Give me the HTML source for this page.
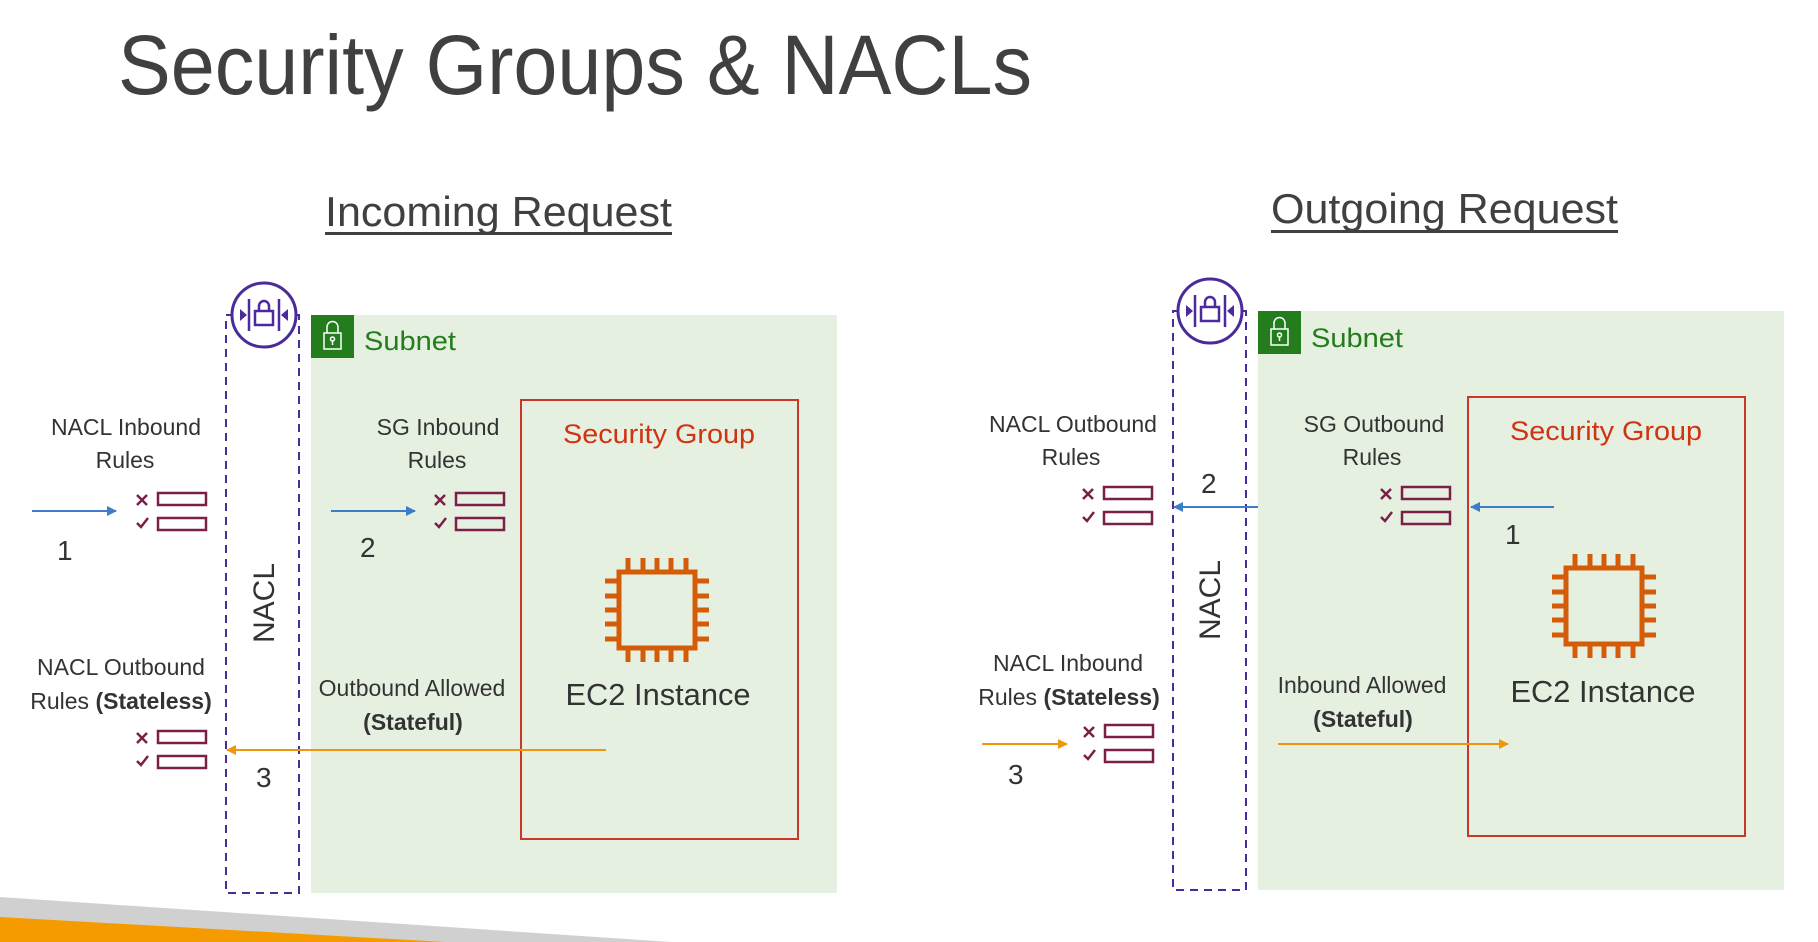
<!DOCTYPE html>
<html><head><meta charset="utf-8"><style>
html,body{margin:0;padding:0;background:#fff;}
svg{display:block;}
text{font-family:"Liberation Sans",sans-serif;}
</style></head><body>
<svg width="1818" height="942" viewBox="0 0 1818 942" xmlns="http://www.w3.org/2000/svg">
<defs>
<marker id="ab" markerWidth="10" markerHeight="10" refX="9" refY="5" orient="auto" markerUnits="userSpaceOnUse"><path d="M0,0 L10,5 L0,10 z" fill="#3d7cc9"/></marker>
<marker id="ao" markerWidth="10" markerHeight="10" refX="9" refY="5" orient="auto" markerUnits="userSpaceOnUse"><path d="M0,0 L10,5 L0,10 z" fill="#f0960e"/></marker>
<g id="rules" fill="none" stroke="#7a2048" stroke-width="2.5">
<path d="M0,2 L10,12 M10,2 L0,12"/>
<rect x="21" y="0" width="48" height="12"/>
<path d="M0,30 L4,34 L11,25"/>
<rect x="21" y="25" width="48" height="12"/>
</g>
<g id="chip" fill="none" stroke="#d45b07" stroke-width="5">
<rect x="-38" y="-38" width="76" height="76"/>
<path d="M-29,-38 V-52 M-14,-38 V-52 M0,-38 V-52 M14,-38 V-52 M29,-38 V-52
M-29,38 V52 M-14,38 V52 M0,38 V52 M14,38 V52 M29,38 V52
M-38,-29 H-52 M-38,-14 H-52 M-38,0 H-52 M-38,14 H-52 M-38,29 H-52
M38,-29 H52 M38,-14 H52 M38,0 H52 M38,14 H52 M38,29 H52"/>
</g>
<g id="naclicon">
<circle cx="0" cy="0" r="32" fill="#fff" stroke="#4b2a9a" stroke-width="3"/>
<g stroke="#4b2a9a" stroke-width="2.5" fill="none">
<path d="M-15,-16 V16 M15,-16 V16"/>
<rect x="-9" y="-4" width="18" height="14"/>
<path d="M-5,-4 V-9 A5,5 0 0 1 5,-9 V-4"/>
</g>
<path d="M-24,-6 L-17,0 L-24,6 z M24,-6 L17,0 L24,6 z" fill="#4b2a9a"/>
</g>
<g id="lock">
<rect x="0" y="0" width="43" height="43" fill="#237d1c"/>
<g stroke="#fff" stroke-width="1.5" fill="none">
<rect x="13" y="18" width="17" height="16"/>
<path d="M16,18 V12 A5.5,5.5 0 0 1 27,12 V18"/>
<circle cx="21.5" cy="24" r="2"/><path d="M21.5,26 V30"/>
</g>
</g>
</defs>

<!-- bottom swoosh -->
<polygon points="0,897 0,942 671,942" fill="#d0d0d0"/>
<polygon points="0,917 0,942 445,942" fill="#f59b00"/>

<!-- title -->
<text x="118" y="94" font-size="84" fill="#404040" textLength="914" lengthAdjust="spacingAndGlyphs">Security Groups &amp; NACLs</text>
<text x="325" y="226" font-size="42" fill="#404040" textLength="347" lengthAdjust="spacingAndGlyphs">Incoming Request</text>
<rect x="325" y="232" width="347" height="3" fill="#404040"/>
<text x="1271" y="223" font-size="42" fill="#404040" textLength="347" lengthAdjust="spacingAndGlyphs">Outgoing Request</text>
<rect x="1271" y="230" width="347" height="3" fill="#404040"/>

<!-- LEFT PANEL -->
<rect x="311" y="315" width="526" height="578" fill="#e6f0e0"/>
<use href="#lock" x="311" y="315"/>
<text x="364" y="350" font-size="27" fill="#237d1c" textLength="92" lengthAdjust="spacingAndGlyphs">Subnet</text>
<rect x="226" y="315" width="73" height="578" fill="none" stroke="#4b2a9a" stroke-width="2" stroke-dasharray="8,6"/>
<use href="#naclicon" x="264" y="315"/>
<text transform="translate(274,603) rotate(-90)" text-anchor="middle" font-size="30" fill="#333">NACL</text>
<rect x="521" y="400" width="277" height="439" fill="none" stroke="#c7372a" stroke-width="2"/>
<text x="659" y="443" text-anchor="middle" font-size="27" fill="#d13212" textLength="192" lengthAdjust="spacingAndGlyphs">Security Group</text>
<use href="#chip" x="657" y="610"/>
<text x="658" y="705" text-anchor="middle" font-size="31" fill="#333" textLength="185" lengthAdjust="spacingAndGlyphs">EC2 Instance</text>

<g font-size="23" fill="#333" text-anchor="middle">
<text x="126" y="435">NACL Inbound</text>
<text x="125" y="468">Rules</text>
<text x="438" y="435">SG Inbound</text>
<text x="437" y="468">Rules</text>
<text x="121" y="675">NACL Outbound</text>
<text x="121" y="709">Rules <tspan font-weight="bold">(Stateless)</tspan></text>
<text x="412" y="696">Outbound Allowed</text>
<text x="413" y="730" font-weight="bold">(Stateful)</text>
</g>
<g font-size="28" fill="#333">
<text x="57" y="560">1</text>
<text x="360" y="557">2</text>
<text x="256" y="787">3</text>
</g>
<use href="#rules" x="137" y="493"/>
<use href="#rules" x="435" y="493"/>
<use href="#rules" x="137" y="731"/>
<line x1="32" y1="511" x2="116" y2="511" stroke="#3d7cc9" stroke-width="2" marker-end="url(#ab)"/>
<line x1="331" y1="511" x2="415" y2="511" stroke="#3d7cc9" stroke-width="2" marker-end="url(#ab)"/>
<line x1="606" y1="750" x2="227" y2="750" stroke="#f0960e" stroke-width="2" marker-end="url(#ao)"/>

<!-- RIGHT PANEL -->
<rect x="1258" y="311" width="526" height="579" fill="#e6f0e0"/>
<use href="#lock" x="1258" y="311"/>
<text x="1311" y="347" font-size="27" fill="#237d1c" textLength="92" lengthAdjust="spacingAndGlyphs">Subnet</text>
<rect x="1173" y="311" width="73" height="579" fill="none" stroke="#4b2a9a" stroke-width="2" stroke-dasharray="8,6"/>
<use href="#naclicon" x="1210" y="311"/>
<text transform="translate(1220,600) rotate(-90)" text-anchor="middle" font-size="30" fill="#333">NACL</text>
<rect x="1468" y="397" width="277" height="439" fill="none" stroke="#c7372a" stroke-width="2"/>
<text x="1606" y="440" text-anchor="middle" font-size="27" fill="#d13212" textLength="192" lengthAdjust="spacingAndGlyphs">Security Group</text>
<use href="#chip" x="1604" y="606"/>
<text x="1603" y="702" text-anchor="middle" font-size="31" fill="#333" textLength="185" lengthAdjust="spacingAndGlyphs">EC2 Instance</text>

<g font-size="23" fill="#333" text-anchor="middle">
<text x="1073" y="432">NACL Outbound</text>
<text x="1071" y="465">Rules</text>
<text x="1374" y="432">SG Outbound</text>
<text x="1372" y="465">Rules</text>
<text x="1068" y="671">NACL Inbound</text>
<text x="1069" y="705">Rules <tspan font-weight="bold">(Stateless)</tspan></text>
<text x="1362" y="693">Inbound Allowed</text>
<text x="1363" y="727" font-weight="bold">(Stateful)</text>
</g>
<g font-size="28" fill="#333">
<text x="1201" y="493">2</text>
<text x="1505" y="544">1</text>
<text x="1008" y="784">3</text>
</g>
<use href="#rules" x="1083" y="487"/>
<use href="#rules" x="1381" y="487"/>
<use href="#rules" x="1084" y="725"/>
<line x1="1258" y1="507" x2="1174" y2="507" stroke="#3d7cc9" stroke-width="2" marker-end="url(#ab)"/>
<line x1="1554" y1="507" x2="1471" y2="507" stroke="#3d7cc9" stroke-width="2" marker-end="url(#ab)"/>
<line x1="982" y1="744" x2="1067" y2="744" stroke="#f0960e" stroke-width="2" marker-end="url(#ao)"/>
<line x1="1278" y1="744" x2="1508" y2="744" stroke="#f0960e" stroke-width="2" marker-end="url(#ao)"/>
</svg>
</body></html>
